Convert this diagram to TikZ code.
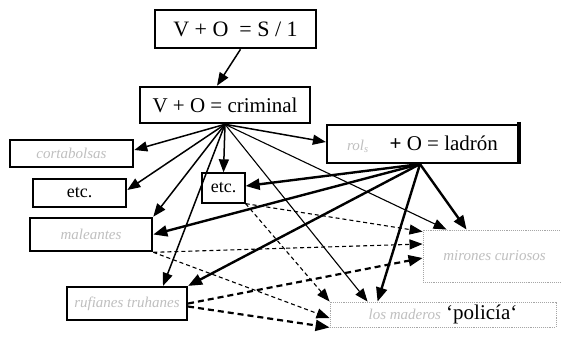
\documentclass[tikz,border=0pt]{standalone}
\usepackage{fontspec}
\setmainfont{Liberation Serif}
\usetikzlibrary{arrows.meta}
\newcommand{\fadedtxt}[1]{\textcolor{gray!50}{\fontsize{15}{17}\selectfont\itshape #1}}
\begin{document}
\begin{tikzpicture}[x=1pt,y=-1pt,
  box/.style={draw,line width=2.6pt,rectangle,inner sep=0pt,font=\fontsize{20}{22}\selectfont},
  thinbox/.style={draw,line width=1.3pt,rectangle,inner sep=0pt,font=\fontsize{18}{20}\selectfont},
  faintbox/.style={draw=gray!70,line width=0.9pt,densely dotted,rectangle,inner sep=0pt,font=\fontsize{21}{23}\selectfont},
  arr/.style={-{Triangle[length=13pt,width=10pt]},line width=1.5pt},
  tarr/.style={-{Triangle[length=13pt,width=10pt]},line width=1.1pt},
  karr/.style={-{Triangle[length=14pt,width=11pt]},line width=2.4pt},
  darr/.style={-{Triangle[length=13pt,width=10pt]},line width=1.1pt,dash pattern=on 4pt off 3pt},
  kdarr/.style={-{Triangle[length=14pt,width=11pt]},line width=2.2pt,dash pattern=on 6pt off 4pt}]
\useasboundingbox (0,0) rectangle (561,338);
\fill[white] (0,0) rectangle (561,338);
% nodes
\node[box,minimum width=161pt,minimum height=38pt,font=\fontsize{22}{24}\selectfont] (top) at (235.5,29) {V + O\ \ = S / 1};
\node[box,minimum width=170pt,minimum height=36pt,font=\fontsize{21}{23}\selectfont] (crim) at (225,105) {V + O = criminal};
\node[box,minimum width=123pt,minimum height=27pt] (cort) at (71.5,153.5) {\fadedtxt{cortabolsas}};
\node[box,minimum width=93pt,minimum height=28pt,font=\fontsize{18}{20}\selectfont] (etcL) at (79.5,193) {etc.};
\node[box,minimum width=122pt,minimum height=33pt] (mang) at (91,234.5) {\fadedtxt{maleantes}};
\node[thinbox,minimum width=43pt,minimum height=30pt] (etcM) at (223.5,188) {etc.};
\node[box,line width=2.2pt,minimum width=191pt,minimum height=38pt,font=\fontsize{21}{23}\selectfont] (ladr) at (422.5,144) {\fadedtxt{rol\textsubscript{s}}\quad{\bfseries +} O = ladrón};
\draw[line width=3.5pt] (ladr.north east) ++(0,-2) -- ++(0,42);
\node[faintbox,minimum width=143pt,minimum height=52pt] (mir) at (494.5,256) {\fadedtxt{mirones curiosos}};
\node[faintbox,minimum width=226pt,minimum height=25pt] (pol) at (443,314.5) {\fadedtxt{los maderos}\ `policía`};
\node[box,line width=2.2pt,minimum width=120pt,minimum height=33pt] (tele) at (127,303.5) {\fadedtxt{rufianes truhanes}};
% top arrow
\draw[arr] ([xshift=5pt]top.south) -- ([xshift=-8pt]crim.north);
% criminal fan
\draw[arr] (crim.south) -- ([yshift=3.5pt]cort.east);
\draw[arr] (crim.south) -- ([yshift=3pt]etcL.east);
\draw[arr] (crim.south) -- (mang.north east);
\draw[arr] (crim.south) -- (etcM.north);
\draw[arr] (crim.south) -- ([xshift=36pt]tele.north);
\draw[arr] (crim.south) -- ([yshift=2pt]ladr.west);
\draw[tarr] (crim.south) -- ([xshift=24pt]mir.north west);
\draw[tarr] (crim.south) -- ([xshift=38pt]pol.north west);
% ladron fan
\draw[karr] ([xshift=-2.5pt]ladr.south) -- ([yshift=2pt]etcM.east);
\draw[karr] ([xshift=-2.5pt]ladr.south) -- (mang.east);
\draw[karr] ([xshift=-2.5pt]ladr.south) -- (tele.north east);
\draw[karr] ([xshift=-2.5pt]ladr.south) -- ([xshift=48pt]pol.north west);
\draw[karr] ([xshift=-2.5pt]ladr.south) -- ([xshift=44pt]mir.north west);
% dashed
\draw[darr] (etcM.south east) -- ([yshift=-2pt]mir.north west);
\draw[darr] (mang.south east) -- ([yshift=12pt]mir.west);
\draw[kdarr] (tele.east) -- ([yshift=-2pt]mir.west);
\draw[darr] (etcM.south east) -- (pol.north west);
\draw[darr] (mang.south east) -- ([yshift=-3.5pt]pol.west);
\draw[kdarr] ([yshift=-3pt]tele.east) -- (pol.south west);
\end{tikzpicture}
\end{document}
